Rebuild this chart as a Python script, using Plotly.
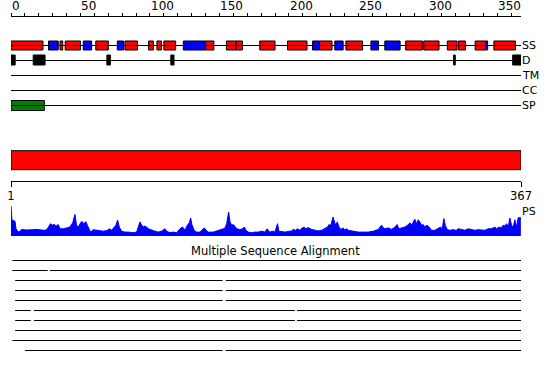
import plotly.graph_objects as go

# ---------------- data ----------------
SEQ_LEN = 367
top_tick_labels = [0, 50, 100, 150, 200, 250, 300, 350]
bottom_tick_vals = [1, 367]

helix = [(0, 23), (35.3, 37.2), (39, 50), (61, 70), (82, 91), (99, 102.5), (105, 108.3),
         (110, 118.5), (140, 146), (155, 162), (162, 166.5), (179, 190), (199, 213),
         (222, 231), (241, 253), (284, 296), (297, 308), (314, 321), (322, 327),
         (334, 341.5), (347.5, 363)]
strand = [(27, 34), (52, 58), (76.5, 81), (124, 140), (217, 222), (233, 239),
          (259, 264.5), (269, 280), (341.5, 343)]
disorder = [(0, 3), (16, 24.5), (69, 71.5), (115, 117.3), (318.5, 319.7), (361, 367)]
signal_peptide = [(0, 24)]
track_labels = ["SS", "D", "TM", "CC", "SP"]

domain_bar = [(1, 367)]

ps_profile = [
    (0, 1.0), (0.7, .52), (1.7, .52), (2.9, .49), (3.6, .24), (5.3, .13), (6.5, .16),
    (7.7, .22), (11, .20), (14, .22), (16, .21), (18, .22), (21, .21), (24, .19),
    (25.7, .21), (28.5, .41), (29.7, .36), (30.9, .39), (32.4, .33), (34, .38),
    (35.3, .24), (37.6, .24), (40, .27), (42.4, .30), (44.4, .44), (46, .72),
    (47.2, .36), (48.4, .30), (50.1, .44), (51.1, .49), (52, .41), (54, .47),
    (54.9, .36), (56.4, .24), (57.3, .13), (59.2, .21), (61.6, .19), (64, .16),
    (66.4, .16), (68.8, .18), (71.2, .24), (72.4, .19), (73.6, .27), (75.5, .36),
    (76.7, .53), (77.9, .30), (79.6, .16), (82, .13), (84.4, .13), (88, .11),
    (90.4, .13), (92.8, .47), (94, .36), (95.2, .31), (96.4, .33), (97.6, .30),
    (98.8, .24), (101.2, .19), (103.6, .16), (106, .13), (108.4, .16), (110.8, .24),
    (112, .16), (114.4, .11), (116.8, .13), (119.2, .11), (121.6, .24), (123.5, .30),
    (125.2, .19), (126.9, .36), (128.3, .44), (129.3, .60), (130.2, .38), (131.7, .19),
    (133.6, .13), (136, .13), (137.6, .21), (139.1, .27), (140.3, .19), (142, .13),
    (145.6, .13), (148, .16), (150.4, .19), (152.8, .24), (154, .27), (155.2, .41),
    (156.6, .80), (157.6, .47), (158.8, .36), (160, .38), (161.4, .30), (162.8, .24),
    (164.7, .21), (166.7, .24), (167.9, .30), (169.1, .19), (170.7, .13), (173.1, .11),
    (175.5, .13), (177.9, .13), (180.3, .16), (182.7, .13), (184.4, .24), (185.9, .13),
    (188.7, .16), (189.9, .13), (191.8, .41), (192.8, .16), (197.1, .13), (201.9, .17),
    (203.1, .22), (204.8, .19), (206.2, .24), (207.9, .19), (209.6, .27), (211, .30),
    (212, .24), (213.9, .28), (216.3, .22), (218.7, .19), (221.1, .17), (223.5, .19),
    (225.9, .24), (227.8, .30), (228.8, .38), (230.2, .36), (231.7, .63), (232.6, .52),
    (233.6, .36), (234.8, .47), (236, .30), (237.4, .22), (239.1, .27), (240.3, .19),
    (241.5, .24), (242.7, .19), (246.3, .16), (249.9, .13), (253.5, .13), (257.1, .13),
    (260.7, .16), (264.3, .22), (265.5, .30), (266.7, .36), (267.9, .27), (269.1, .24),
    (271.5, .27), (273.9, .22), (276.3, .30), (277.9, .38), (279.1, .24), (281, .27),
    (283.5, .30), (285.4, .36), (287.1, .44), (288.3, .36), (289.4, .47), (290.6, .56),
    (291.8, .41), (293, .54), (294.2, .47), (295.4, .36), (296.6, .38), (297.8, .30),
    (299, .36), (300.2, .33), (301.4, .27), (302.6, .19), (305, .19), (307.4, .27),
    (309.1, .30), (310.3, .24), (311.5, .58), (312.5, .36), (313.9, .22), (315.6, .19),
    (318, .21), (320.4, .19), (321.8, .24), (324.2, .22), (326.6, .19), (329, .24),
    (331.4, .22), (333.8, .19), (336.1, .21), (338.6, .19), (341, .19), (343.4, .24),
    (345.3, .24), (347, .27), (348.2, .30), (349.4, .24), (351.1, .30), (352.5, .27),
    (354.2, .36), (355.4, .33), (356.6, .41), (357.8, .30), (359, .60), (360.2, .36),
    (361.4, .30), (362.6, .54), (363.8, .30), (365, .61), (366.9, .61),
]

msa_rows = [
    [(1, 367)],
    [(1, 26.4), (28, 367)],
    [(3, 152.3), (154.5, 367)],
    [(3, 152.3), (154.5, 367)],
    [(3, 152.3), (154.5, 367)],
    [(3, 14.2), (16.5, 204.3), (205.8, 367)],
    [(3, 14.2), (16.5, 204.3), (205.8, 367)],
    [(3, 367)],
    [(1, 367)],
    [(10, 152.3), (154.5, 367)],
]

# ---------------- layout constants (screen-pixel rows) ----------------
W, H = 550, 380
FONT = "DejaVu Sans"
track_y = [45.5, 60.5, 75.5, 90.5, 105.5]
bar_y = 160.2
msa_y0, msa_dy = 260.5, 10
ps_bottom, ps_top = 236, 206

fig = go.Figure()

# track baselines
xs, ys = [], []
for y in track_y:
    xs += [0, SEQ_LEN, None]
    ys += [y, y, None]
fig.add_trace(go.Scatter(x=xs, y=ys, mode="lines", line=dict(color="black", width=1),
                         hoverinfo="skip"))


def add_blocks(segs, y, color, width, xaxis="x"):
    fig.add_trace(go.Bar(
        orientation="h", y=[y] * len(segs), base=[s for s, e in segs],
        x=[e - s for s, e in segs], width=width, xaxis=xaxis,
        marker=dict(color=color, line=dict(color="black", width=1)),
        hoverinfo="skip"))


add_blocks(helix, track_y[0], "#ff0000", 9)
add_blocks(strand, track_y[0], "#0000ff", 9)
add_blocks(disorder, 60, "black", 10)
add_blocks(signal_peptide, track_y[4], "#008000", 10)
add_blocks(domain_bar, bar_y, "#ff0000", 19, xaxis="x2")

# PS profile
fig.add_trace(go.Scatter(
    x=[p for p, v in ps_profile], y=[v for p, v in ps_profile], yaxis="y2",
    mode="lines", fill="tozeroy", fillcolor="#0000ff",
    line=dict(color="#0000ff", width=1), hoverinfo="skip"))

# MSA
mx, my = [], []
for i, row in enumerate(msa_rows):
    y = msa_y0 + msa_dy * i
    for s, e in row:
        mx += [s, e, None]
        my += [y, y, None]
fig.add_trace(go.Scatter(x=mx, y=my, mode="lines", line=dict(color="black", width=1),
                         hoverinfo="skip"))

annotations = []
for t in top_tick_labels:
    annotations.append(dict(x=t, y=5.5, xref="x", yref="y", text=str(t), showarrow=False,
                            xanchor="left", yanchor="middle", xshift=-1,
                            font=dict(family=FONT, size=12, color="black")))
for lab, y in zip(track_labels, track_y):
    annotations.append(dict(x=SEQ_LEN, y=y, xref="x", yref="y", text=lab, showarrow=False,
                            xanchor="left", yanchor="middle", xshift=-1,
                            font=dict(family=FONT, size=11, color="black")))
annotations.append(dict(x=SEQ_LEN, y=211, xref="x", yref="y", text="PS", showarrow=False,
                        xanchor="left", yanchor="middle", xshift=-1,
                        font=dict(family=FONT, size=11, color="black")))
annotations.append(dict(x=(W / 2 - 11) / (W - 40), y=251, xref="paper", yref="y",
                        text="Multiple Sequence Alignment",
                        showarrow=False, xanchor="center", yanchor="middle",
                        font=dict(family=FONT, size=11.5, color="black")))

fig.update_layout(
    width=W, height=H, margin=dict(l=11, r=29, t=0, b=0),
    paper_bgcolor="white", plot_bgcolor="white", showlegend=False, barmode="overlay",
    font=dict(family=FONT, color="black"),
    xaxis=dict(range=[0, SEQ_LEN], domain=[0, 1], anchor="free", position=(H - 15.5) / H,
               side="top", showline=True, linecolor="black", linewidth=1,
               ticks="outside", ticklen=3, tickwidth=1, tickcolor="black",
               tick0=0, dtick=10, showticklabels=False, showgrid=False, zeroline=False,
               fixedrange=True),
    xaxis2=dict(range=[1, SEQ_LEN], overlaying="x", anchor="free", position=(H - 180.5) / H,
                side="bottom", showline=True, linecolor="black", linewidth=1,
                ticks="outside", ticklen=5, tickwidth=1, tickcolor="black",
                tickvals=bottom_tick_vals, ticktext=[str(v) for v in bottom_tick_vals],
                tickfont=dict(family=FONT, size=11.5, color="black"),
                showgrid=False, zeroline=False, fixedrange=True),
    yaxis=dict(range=[H, 0], domain=[0, 1], visible=False, fixedrange=True),
    yaxis2=dict(range=[0, 1], domain=[(H - ps_bottom) / H, (H - ps_top) / H], anchor="x",
                visible=False, fixedrange=True),
    annotations=annotations,
)

fig.write_html("out.html", config={"displayModeBar": False},
               post_script="document.body.style.margin='0';document.body.style.overflow='hidden';")
